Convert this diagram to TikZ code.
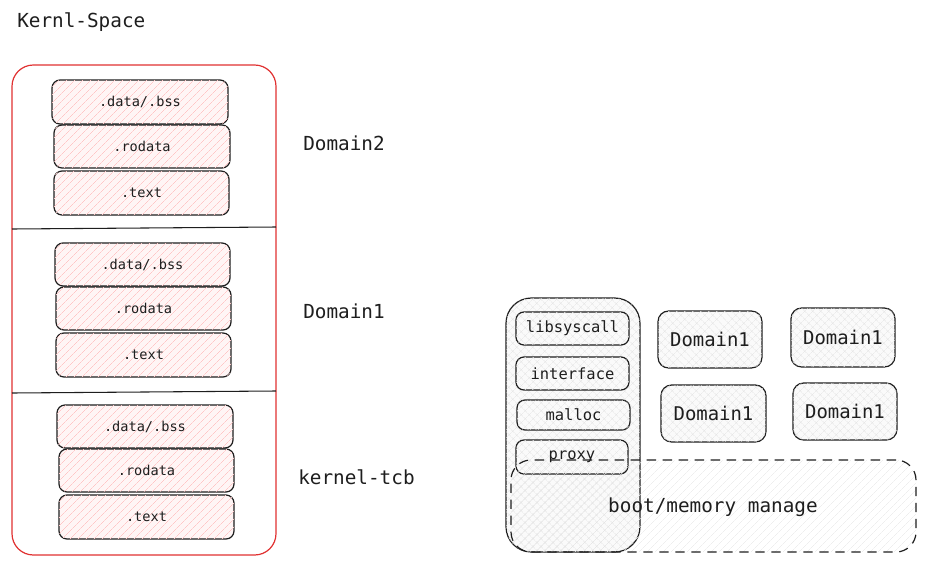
\documentclass[tikz,border=0pt]{standalone}
\usepackage{fontspec}
\setmainfont{DejaVu Sans Mono}
\usetikzlibrary{patterns.meta,fit}
\definecolor{ink}{HTML}{1E1E1E}
\definecolor{redline}{HTML}{E03131}
\tikzset{
  pinkbox/.style={draw=ink, line width=0.9pt, rounded corners=6pt, inner sep=0pt,
    fill=red!4, postaction={pattern={Lines[angle=45,distance=4pt,line width=0.4pt]}, pattern color=red!22}},
  graybox/.style={draw=ink, line width=0.9pt, rounded corners=6pt, inner sep=0pt,
    fill=gray!4, postaction={pattern={Hatch[angle=45,distance=4pt,line width=0.3pt]}, pattern color=gray!22}},
  small/.style={font=\fontsize{10.2}{12}\selectfont, text=ink, inner sep=0pt},
  mid/.style={font=\fontsize{11.6}{13}\selectfont, text=ink, inner sep=0pt},
  dom/.style={font=\fontsize{14.2}{17}\selectfont, text=ink, inner sep=0pt},
  biglabel/.style={font=\fontsize{14.5}{17}\selectfont, text=ink, inner sep=0pt},
  sep/.style={draw=ink, line width=0.8pt},
}
\newcommand{\pbox}[4]{%
  \node[pinkbox, fit={#2 #3}] (#1) {};
  \node[small] (#1t) at (#1.center) {#4};}
\begin{document}
\begin{tikzpicture}[x=0.75pt,y=-0.75pt]
\useasboundingbox (0,0) rectangle (926,565);
% title
\node[biglabel, anchor=west] (title) at (17,22) {Kernl-Space};
% outer red
\node[draw=redline, line width=0.9pt, rounded corners=16pt, inner sep=0pt, fit={(12,65) (276,555)}] (outer) {};
\draw[sep] (12,229) -- (276,227);
\draw[sep] (12,393) -- (276,391);
% Domain2 group
\pbox{d2data}{(52,80)}{(228,124)}{.data/.bss}
\pbox{d2ro}{(54,125)}{(230,168)}{.rodata}
\pbox{d2text}{(54,171)}{(229,215)}{.text}
% Domain1 group
\pbox{d1data}{(55,243)}{(230,286)}{.data/.bss}
\pbox{d1ro}{(56,287)}{(231,330)}{.rodata}
\pbox{d1text}{(56,333)}{(231,377)}{.text}
% kernel-tcb group
\pbox{kdata}{(57,405)}{(233,448)}{.data/.bss}
\pbox{kro}{(59,449)}{(234,492)}{.rodata}
\pbox{ktext}{(59,495)}{(234,539)}{.text}
% labels
\node[biglabel, anchor=west] (lbl2) at (303,143) {Domain2};
\node[biglabel, anchor=west] (lbl1) at (303,311) {Domain1};
\node[biglabel, anchor=west] (lblk) at (298,477) {kernel-tcb};
% right side tall box
\node[graybox, rounded corners=19pt, fit={(506,298) (640,552)}] (tall) {};
\node[graybox, fit={(516,312) (629,345)}] (libsys) {};
\node[mid] (libsyst) at (libsys.center) {libsyscall};
\node[graybox, fit={(516,357) (629,390)}] (iface) {};
\node[mid] (ifacet) at (iface.center) {interface};
\node[graybox, fit={(517,400) (630,430)}] (malloc) {};
\node[mid] (malloct) at (malloc.center) {malloc};
\node[graybox, fit={(516,440) (628,474)}] (proxy) {};
\node[mid] (proxyt) at (proxy.center) {proxy};
% domain boxes
\node[graybox, rounded corners=8pt, fit={(658,311) (762,368)}] (r1) {};
\node[dom] (r1t) at (r1.center) {Domain1};
\node[graybox, rounded corners=8pt, fit={(791,308) (895,367)}] (r2) {};
\node[dom] (r2t) at (r2.center) {Domain1};
\node[graybox, rounded corners=8pt, fit={(661,385) (766,442)}] (r3) {};
\node[dom] (r3t) at (r3.center) {Domain1};
\node[graybox, rounded corners=8pt, fit={(793,383) (897,440)}] (r4) {};
\node[dom] (r4t) at (r4.center) {Domain1};
% dashed boot box
\node[draw=ink, line width=0.9pt, dash pattern=on 7pt off 5pt, rounded corners=15pt, inner sep=0pt,
  pattern={Lines[angle=45,distance=4pt,line width=0.3pt]}, pattern color=gray!20,
  fit={(511,460) (916,552)}] (boot) {};
\node[biglabel] (bootlbl) at (713,507) {boot/memory manage};
\end{tikzpicture}
\end{document}
